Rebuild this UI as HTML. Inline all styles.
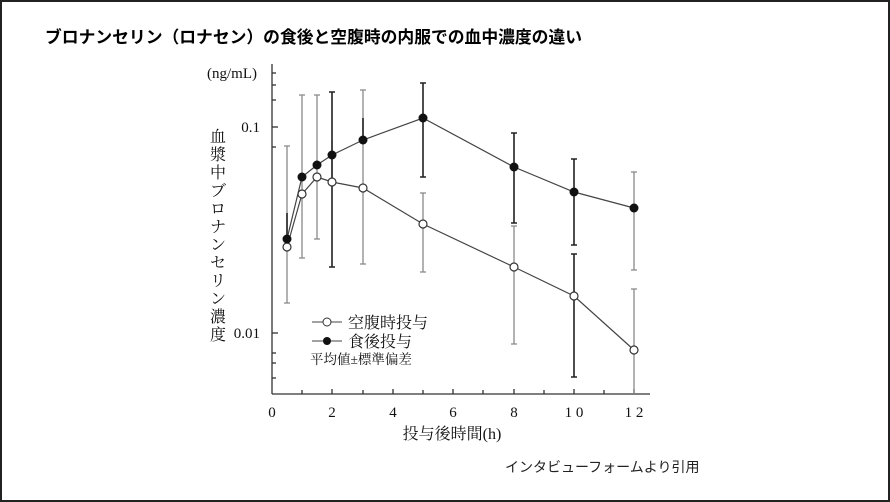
<!DOCTYPE html>
<html><head><meta charset="utf-8"><style>
body{margin:0;background:#fff}
#w{position:relative;width:886px;height:498px;border:2px solid #222;overflow:hidden;background:#fff}
.t{position:absolute;white-space:nowrap;font-family:"Liberation Sans","Noto Sans CJK JP",sans-serif}
</style></head><body><div id="w">
<div class="t" style="left:43px;top:22px;font-size:16.8px;font-weight:bold;color:#000">ブロナンセリン（ロナセン）の食後と空腹時の内服での血中濃度の違い</div>
<div class="t" style="left:503px;top:455px;font-size:14px;color:#222">インタビューフォームより引用</div>
<svg width="886" height="498" style="position:absolute;left:-2px;top:-2px" font-family="Liberation Serif,Noto Serif CJK SC,serif">
<g stroke="#333" fill="none" stroke-width="1.3">
<line x1="272" y1="64" x2="272" y2="394"/><line x1="272" y1="394" x2="650" y2="394"/>
<line x1="272" y1="127" x2="278" y2="127"/><line x1="272" y1="333" x2="278" y2="333"/>
<line x1="272" y1="147" x2="276" y2="147"/><line x1="272" y1="353" x2="276" y2="353"/>
<line x1="272" y1="363" x2="276" y2="363"/><line x1="272" y1="378" x2="276" y2="378"/>
<line x1="272" y1="73" x2="276" y2="73"/><line x1="272" y1="85" x2="276" y2="85"/><line x1="272" y1="100" x2="276" y2="100"/>
<line x1="302" y1="394" x2="302" y2="390"/><line x1="332" y1="394" x2="332" y2="389"/><line x1="363" y1="394" x2="363" y2="390"/><line x1="393" y1="394" x2="393" y2="389"/><line x1="423" y1="394" x2="423" y2="390"/><line x1="453" y1="394" x2="453" y2="389"/><line x1="483" y1="394" x2="483" y2="390"/><line x1="514" y1="394" x2="514" y2="389"/><line x1="544" y1="394" x2="544" y2="390"/><line x1="574" y1="394" x2="574" y2="389"/><line x1="604" y1="394" x2="604" y2="390"/><line x1="634" y1="394" x2="634" y2="389"/>
</g>
<g stroke="#888" stroke-width="1.3">
<path d="M287 146V303M284 146h6M284 303h6M302 95V258M299 95h6M299 258h6M317 95V239M314 95h6M314 239h6M332 140V182M363 90V264M360 90h6M360 264h6M423 193V272M420 193h6M420 272h6M514 226V344M511 226h6M511 344h6M634 172V270M631 172h6M631 270h6M634 289V394M631 289h6"/>
</g>
<g stroke="#222" stroke-width="1.6">
<path d="M287 213V239M332 92V267M329 92h6M329 267h6M363 118V140M423 83V177M420 83h6M420 177h6M514 133V223M511 133h6M511 223h6M574 159V245M571 159h6M571 245h6M574 254V377M571 254h6M571 377h6"/>
</g>
<polyline fill="none" stroke="#444" stroke-width="1.2" points="287,247 302,194 317,177 332,182 363,188 423,224 514,267 574,296 634,350"/>
<polyline fill="none" stroke="#444" stroke-width="1.2" points="287,239 302,177 317,165 332,155 363,140 423,118 514,167 574,192 634,208"/>
<g fill="#fff" stroke="#333" stroke-width="1.2">
<circle cx="287" cy="247" r="4"/><circle cx="302" cy="194" r="4"/><circle cx="317" cy="177" r="4"/><circle cx="332" cy="182" r="4"/><circle cx="363" cy="188" r="4"/><circle cx="423" cy="224" r="4"/><circle cx="514" cy="267" r="4"/><circle cx="574" cy="296" r="4"/><circle cx="634" cy="350" r="4"/>
</g>
<g fill="#111">
<circle cx="287" cy="239" r="4.5"/><circle cx="302" cy="177" r="4.5"/><circle cx="317" cy="165" r="4.5"/><circle cx="332" cy="155" r="4.5"/><circle cx="363" cy="140" r="4.5"/><circle cx="423" cy="118" r="4.5"/><circle cx="514" cy="167" r="4.5"/><circle cx="574" cy="192" r="4.5"/><circle cx="634" cy="208" r="4.5"/>
</g>
<g font-size="15" fill="#111" text-anchor="middle">
<text x="272" y="417">0</text><text x="332" y="417">2</text><text x="393" y="417">4</text><text x="453" y="417">6</text><text x="514" y="417">8</text><text x="574" y="417">1 0</text><text x="634" y="417">1 2</text>
<text x="452" y="439" font-size="16">投与後時間(h)</text>
</g>
<g font-size="15" fill="#111" text-anchor="end">
<text x="260" y="132">0.1</text><text x="260" y="338">0.01</text>
<text x="257" y="78">(ng/mL)</text>
</g>
<g font-size="16" fill="#111" text-anchor="middle">
<text x="218" y="142">血</text><text x="218" y="160">漿</text><text x="218" y="178">中</text><text x="218" y="196">ブ</text><text x="218" y="214">ロ</text><text x="218" y="232">ナ</text><text x="218" y="250">ン</text><text x="218" y="268">セ</text><text x="218" y="286">リ</text><text x="218" y="304">ン</text><text x="218" y="322">濃</text><text x="218" y="340">度</text>
</g>
<line x1="312" y1="322" x2="342" y2="322" stroke="#444"/><circle cx="327" cy="322" r="4" fill="#fff" stroke="#333"/>
<line x1="312" y1="341" x2="342" y2="341" stroke="#444"/><circle cx="327" cy="341" r="4" fill="#111"/>
<g font-size="16" fill="#111"><text x="348" y="328">空腹時投与</text><text x="348" y="347">食後投与</text><text x="310" y="364" font-size="13.5">平均値±標準偏差</text></g>
</svg>
</div></body></html>
